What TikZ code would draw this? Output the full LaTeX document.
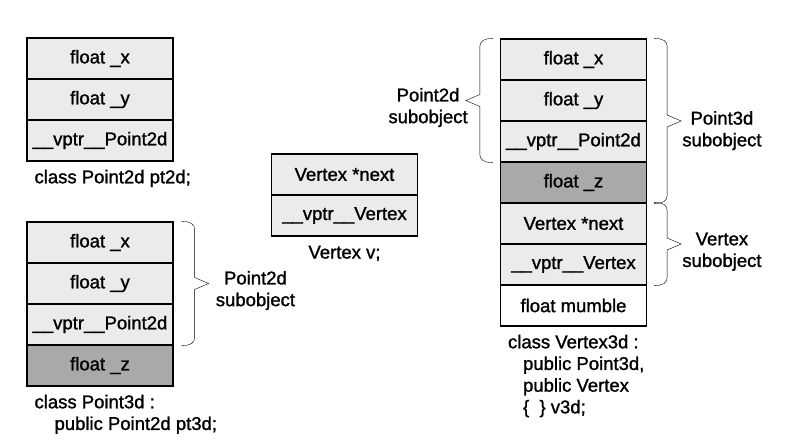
\documentclass[tikz,border=0pt]{standalone}
\usepackage{fontspec}
\setmainfont{Liberation Sans}[FakeBold=1.3]
\usetikzlibrary{positioning,calc}

\definecolor{cell light}{HTML}{EBEBEB}
\definecolor{cell dark}{HTML}{A9A9A9}

\begin{document}
\begin{tikzpicture}
                [
                    x=1pt,
                    y=-1pt,
                    font=\fontsize{18.5}{21.7}\selectfont,
                    node distance=41pt,
                    cell/.style={draw, line width=1.3pt, fill=cell light,
                        minimum width=146pt, minimum height=41pt, inner sep=0pt},
                    cell derived/.style={cell, fill=cell dark},
                    cell own/.style={cell, fill=white},
                    caption/.style={align=left, inner sep=0pt},
                    sub label/.style={align=center, inner sep=0pt},
                    % curly brace, #1 = 1 opens right, -1 opens left
                    sub brace/.style={line width=1pt, to path={
                        let \p1=(\tikztostart), \p2=(\tikztotarget),
                            \n1={0.5*(\y1+\y2)} in
                        (\p1) .. controls ({\x1+(#1)*9pt},\y1)
                                      and ({\x1+(#1)*13pt},{\y1-3pt})
                              .. ({\x1+(#1)*13pt},{\y1-8pt})
                        -- ({\x1+(#1)*13pt},{\n1+6pt})
                        -- ({\x1+(#1)*27pt},\n1)
                        -- ({\x1+(#1)*13pt},{\n1-6pt})
                        -- ({\x1+(#1)*13pt},{\y2+8pt})
                           .. controls ({\x1+(#1)*13pt},{\y2+3pt})
                                   and ({\x1+(#1)*9pt},\y2)
                           .. (\p2)}}
                ]
                \useasboundingbox (0,0) rectangle (790,441);

                % Point2d pt2d
                \node (pt2d x)    [cell] at (100,58.5)         {float \_x};
                \node (pt2d y)    [cell, below of=pt2d x]     {float \_y};
                \node (pt2d vptr) [cell, below of=pt2d y]     {\_\_vptr\_\_Point2d};
                \node (pt2d name)
                      [caption, below right=8pt and 8pt of pt2d vptr.south west]
                      {class Point2d pt2d;};

                % Point3d pt3d
                \node (pt3d x)    [cell] at (100,242.5)        {float \_x};
                \node (pt3d y)    [cell, below of=pt3d x]     {float \_y};
                \node (pt3d vptr) [cell, below of=pt3d y]     {\_\_vptr\_\_Point2d};
                \node (pt3d z)    [cell derived, below of=pt3d vptr] {float \_z};
                \node (pt3d name)
                      [caption, below right=8pt and 8pt of pt3d z.south west]
                      {class Point3d :\\\hspace*{20pt}public Point2d pt3d;};

                % Vertex v
                \node (v next)    [cell] at (344.5,174.5)      {Vertex *next};
                \node (v vptr)    [cell, below of=v next]     {\_\_vptr\_\_Vertex};
                \node (v name)
                      [caption, below=9pt of v vptr]
                      {Vertex v;};

                % Vertex3d v3d
                \node (v3d x)      [cell] at (573.5,59.5)      {float \_x};
                \node (v3d y)      [cell, below of=v3d x]     {float \_y};
                \node (v3d vptr p) [cell, below of=v3d y]     {\_\_vptr\_\_Point2d};
                \node (v3d z)      [cell derived, below of=v3d vptr p] {float \_z};
                \node (v3d next)   [cell, below of=v3d z]     {Vertex *next};
                \node (v3d vptr v) [cell, below of=v3d next]  {\_\_vptr\_\_Vertex};
                \node (v3d mumble) [cell own, below of=v3d vptr v] {float mumble};
                \node (v3d name)
                      [caption, below right=8pt and 8pt of v3d mumble.south west]
                      {class Vertex3d :\\\hspace*{15pt}public Point3d,\\
                       \hspace*{15pt}public Vertex\\\hspace*{15pt}\{ \ \} v3d;};

                % subobject labels
                \node (pt3d sub)    [sub label, right=42pt of pt3d y.east, yshift=-7pt]
                                    {Point2d\\subobject};
                \node (v3d sub p2d) [sub label, left=32pt of v3d y.west, yshift=-7pt]
                                    {Point2d\\subobject};
                \node (v3d sub p3d) [sub label, right=35pt of v3d y.south east, yshift=-9pt]
                                    {Point3d\\subobject};
                \node (v3d sub v)   [sub label, right=35pt of v3d next.south east, yshift=-7pt]
                                    {Vertex\\subobject};

                % subobject braces
                \draw ([xshift=8pt]pt3d x.north east)
                      to [sub brace=1]  ([xshift=8pt]pt3d vptr.south east);
                \draw ([xshift=-7pt]v3d x.north west)
                      to [sub brace=-1] ([xshift=-7pt]v3d vptr p.south west);
                \draw ([xshift=7pt]v3d x.north east)
                      to [sub brace=1]  ([xshift=7pt]v3d z.south east);
                \draw ([xshift=7pt]v3d next.north east)
                      to [sub brace=1]  ([xshift=7pt]v3d vptr v.south east);

            \end{tikzpicture}
\end{document}
